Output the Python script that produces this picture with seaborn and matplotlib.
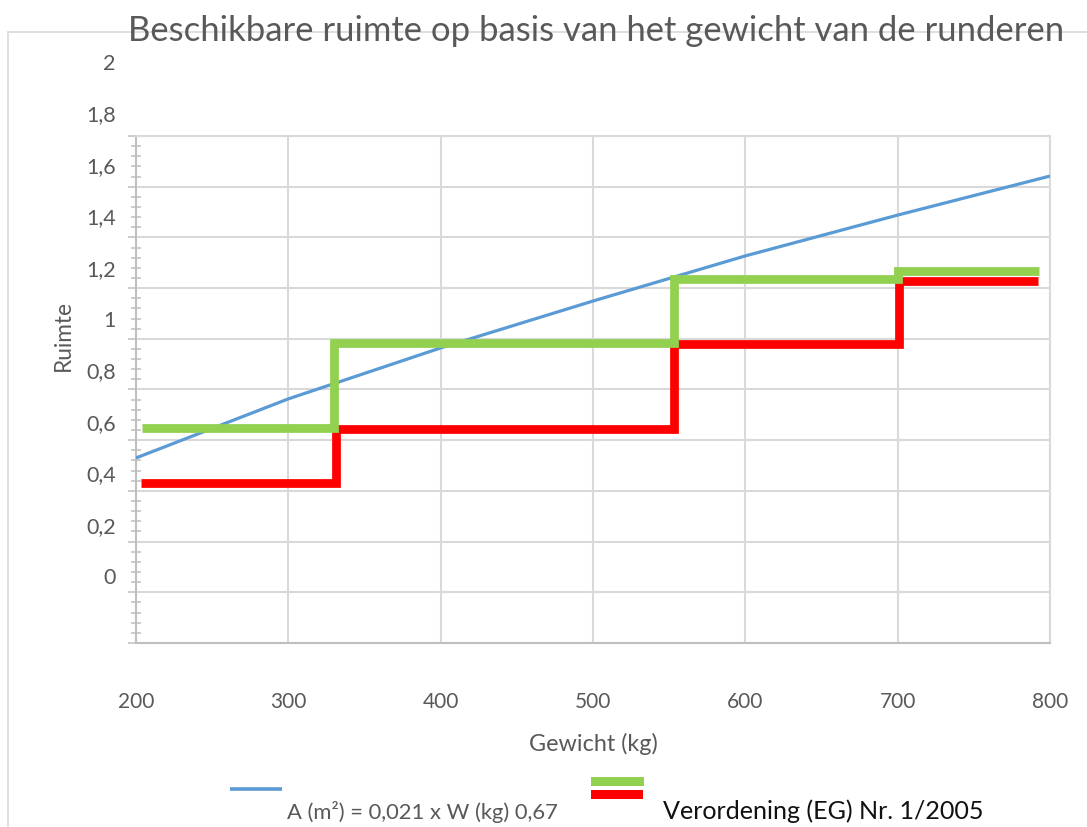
import matplotlib
matplotlib.use("Agg")
import matplotlib.pyplot as plt
import seaborn as sns
from matplotlib.lines import Line2D
from matplotlib.patches import Rectangle
from matplotlib.ticker import MultipleLocator, FixedLocator

# ---------------- data ----------------
blue_x = [200, 300, 400, 500, 600, 700, 800]
blue_y = [0.730, 0.963, 1.164, 1.349, 1.527, 1.688, 1.842]

red_x = [203, 331, 331, 553, 553, 701, 701, 792]
red_y = [0.631, 0.631, 0.845, 0.845, 1.180, 1.180, 1.428, 1.428]

green_x = [204, 330, 330, 553, 553, 700, 700, 793]
green_y = [0.848, 0.848, 1.183, 1.183, 1.436, 1.436, 1.467, 1.467]

x_ticks = [200, 300, 400, 500, 600, 700, 800]
x_tick_labels = ["200", "300", "400", "500", "600", "700", "800"]
y_label_values = [0, 0.2, 0.4, 0.6, 0.8, 1.0, 1.2, 1.4, 1.6, 1.8, 2.0]
y_tick_labels = ["0", "0,2", "0,4", "0,6", "0,8", "1", "1,2", "1,4", "1,6", "1,8", "2"]

title = "Beschikbare ruimte op basis van het gewicht van de runderen"
x_title = "Gewicht (kg)"
y_title = "Ruimte"
legend_blue = "A (m²) = 0,021 x W (kg) 0,67"
legend_steps = "Verordening (EG) Nr. 1/2005"

# ---------------- style ----------------
sns.set_style("white")
plt.rcParams['font.family'] = ['Lato', 'DejaVu Sans']

BLUE = "#5b9bd5"
RED = "#ff0000"
GREEN = "#92d050"
GRID = "#d9d9d9"
AX = "#bfbfbf"
TXT = "#595959"

W, H = 1087, 827
fig = plt.figure(figsize=(W / 100, H / 100), dpi=100)

# outer chart frame
fig.add_artist(Rectangle((8 / W, -0.1), 1.2, (1 - 32 / H) + 0.1, transform=fig.transFigure,
                         fill=False, edgecolor=GRID, linewidth=1.2, zorder=0))

ax = fig.add_axes([136 / W, 1 - 643 / H, (1050 - 136) / W, (643 - 136) / H])
ax.set_facecolor("none")

sns.lineplot(x=blue_x, y=blue_y, ax=ax, color=BLUE, linewidth=2.3,
             estimator=None, sort=False, zorder=3)
sns.lineplot(x=red_x, y=red_y, ax=ax, color=RED, linewidth=6.3,
             estimator=None, sort=False, zorder=4)
sns.lineplot(x=green_x, y=green_y, ax=ax, color=GREEN, linewidth=6.3,
             estimator=None, sort=False, zorder=5)
for ln in ax.get_lines():
    ln.set_solid_capstyle("butt")
    ln.set_solid_joinstyle("miter")

ax.set_xlim(200, 800)
ax.set_ylim(0, 2)

# gridlines
ax.yaxis.set_major_locator(MultipleLocator(0.2))
ax.yaxis.set_minor_locator(MultipleLocator(0.04))
ax.xaxis.set_major_locator(FixedLocator(x_ticks))
ax.grid(True, which="major", color=GRID, linewidth=1.5, zorder=0)
ax.set_axisbelow(True)

for s in ["top", "right"]:
    ax.spines[s].set_visible(True)
    ax.spines[s].set_color(GRID)
    ax.spines[s].set_linewidth(1.5)
for s in ["left", "bottom"]:
    ax.spines[s].set_color(AX)
    ax.spines[s].set_linewidth(1.5)

ax.tick_params(axis="y", which="major", direction="out", length=6, width=1.1,
               color=AX, labelleft=False, left=True)
ax.tick_params(axis="y", which="minor", direction="inout", length=7.5, width=1.1,
               color=AX, left=True)
ax.set_xticks(x_ticks)
ax.set_xticklabels(x_tick_labels)
ax.tick_params(axis="x", which="major", length=0, pad=35.5, labelsize=15, labelcolor=TXT)
ax.set_xlabel(x_title, fontsize=16.8, color=TXT, labelpad=15)
ax.set_ylabel("")

# y tick labels on their own (offset) scale, as in the reference
lab_ax = fig.add_axes([136 / W, 1 - 576 / H, 0.001, (576 - 62) / H])
lab_ax.set_facecolor("none")
for s in lab_ax.spines.values():
    s.set_visible(False)
lab_ax.set_ylim(0, 2)
lab_ax.set_yticks(y_label_values)
lab_ax.set_yticklabels(y_tick_labels)
lab_ax.set_xticks([])
lab_ax.tick_params(axis="y", length=0, pad=14.5, labelsize=15.5, labelcolor=TXT)

fig.text(63 / W, 1 - 336 / H, y_title, rotation=90, ha="center", va="center",
         fontsize=16.3, color=TXT)

# title
fig.text(596 / W, 1 - 31 / H, title, ha="center", va="center", fontsize=24.9, color=TXT)

# legend (manual, as laid out in the reference)
fig.add_artist(Line2D([230 / W, 282 / W], [1 - 789 / H, 1 - 789 / H], transform=fig.transFigure,
                      color=BLUE, linewidth=2.6, solid_capstyle="butt"))
fig.text(287 / W, 1 - 812 / H, legend_blue, ha="left", va="center", fontsize=15.8, color=TXT)
fig.add_artist(Rectangle((591 / W, 1 - 786 / H), 53 / W, 9 / H, transform=fig.transFigure,
                         facecolor=GREEN, edgecolor="none"))
fig.add_artist(Rectangle((591 / W, 1 - 799 / H), 52 / W, 9 / H, transform=fig.transFigure,
                         facecolor=RED, edgecolor="none"))
fig.text(663 / W, 1 - 811 / H, legend_steps, ha="left", va="center", fontsize=18.05, color="#111111")

fig.savefig("out.png", dpi=100)
